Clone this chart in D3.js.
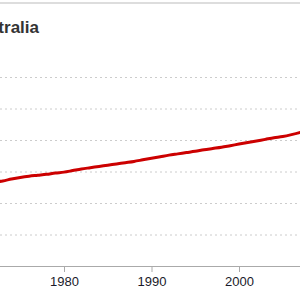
<!DOCTYPE html>
<html>
<head>
<meta charset="utf-8">
<script src="https://d3js.org/d3.v7.min.js"></script>
<style>
    body { margin: 0; background: #fff; }
    svg { display: block; }
    .grid line { stroke: #ccc; stroke-dasharray: 2,3; }
    .axis path, .axis line { stroke: #aaa; }
    .axis text { font: 13px "Liberation Sans", Arial, sans-serif; fill: #1a1a2a; }
    .title { font: bold 17px "Liberation Sans", Arial, sans-serif; fill: #333; }
</style>
</head>
<body>
<svg class="target" width="300" height="300"></svg>
<script>

    // Australia, population (millions)
    let years = [1971, 1972, 1973, 1974, 1975, 1976, 1977, 1978, 1979, 1980,
        1981, 1982, 1983, 1984, 1985, 1986, 1987, 1988, 1989, 1990,
        1991, 1992, 1993, 1994, 1995, 1996, 1997, 1998, 1999, 2000,
        2001, 2002, 2003, 2004, 2005, 2006, 2007, 2008, 2009, 2010];
    let population = [13.1, 13.3, 13.5, 13.8, 14.05, 14.25, 14.4, 14.55, 14.75, 14.9,
        15.15, 15.4, 15.6, 15.8, 16.0, 16.2, 16.4, 16.6, 16.85, 17.1,
        17.35, 17.6, 17.8, 18.0, 18.2, 18.45, 18.65, 18.85, 19.1, 19.35,
        19.6, 19.85, 20.1, 20.35, 20.55, 20.85, 21.2, 21.6, 22.0, 22.3];
    let xTicks = [1980, 1990, 2000];
    let yTicks = [5, 10, 15, 20, 25, 30];

    let svg = d3.select(".target");

    let x = d3.scaleLinear().domain([1960, 2010]).range([-111, 326.5]);
    let y = d3.scaleLinear().domain([0, 30]).range([266, 77]);

    // top rule
    svg.append("line")
        .attr("x1", 0).attr("x2", 300)
        .attr("y1", 3).attr("y2", 3)
        .attr("stroke", "#ddd")
        .attr("stroke-width", 2);

    // title runs off the left edge, as in the source crop
    svg.append("text")
        .attr("class", "title")
        .attr("x", 39)
        .attr("y", 33)
        .attr("text-anchor", "end")
        .text("Australia");

    svg.append("g")
        .attr("class", "grid")
        .selectAll("line")
        .data(yTicks)
        .enter().append("line")
        .attr("x1", 0).attr("x2", 300)
        .attr("y1", d => y(d) + 0.5)
        .attr("y2", d => y(d) + 0.5);

    let axis = svg.append("g")
        .attr("class", "axis")
        .attr("transform", "translate(0," + y(0) + ")")
        .call(d3.axisBottom(x).tickValues(xTicks).tickFormat(d3.format("d"))
            .tickSize(6).tickSizeOuter(0).tickPadding(5));
    axis.select(".domain").attr("d", "M0,0.5H300");

    let line = d3.line()
        .x((d, i) => x(years[i]))
        .y(d => y(d))
        .curve(d3.curveMonotoneX);

    svg.append("path")
        .datum(population)
        .attr("fill", "none")
        .attr("stroke", "#cc0000")
        .attr("stroke-width", 3)
        .attr("stroke-linejoin", "round")
        .attr("d", line);
</script>
</body>
</html>
